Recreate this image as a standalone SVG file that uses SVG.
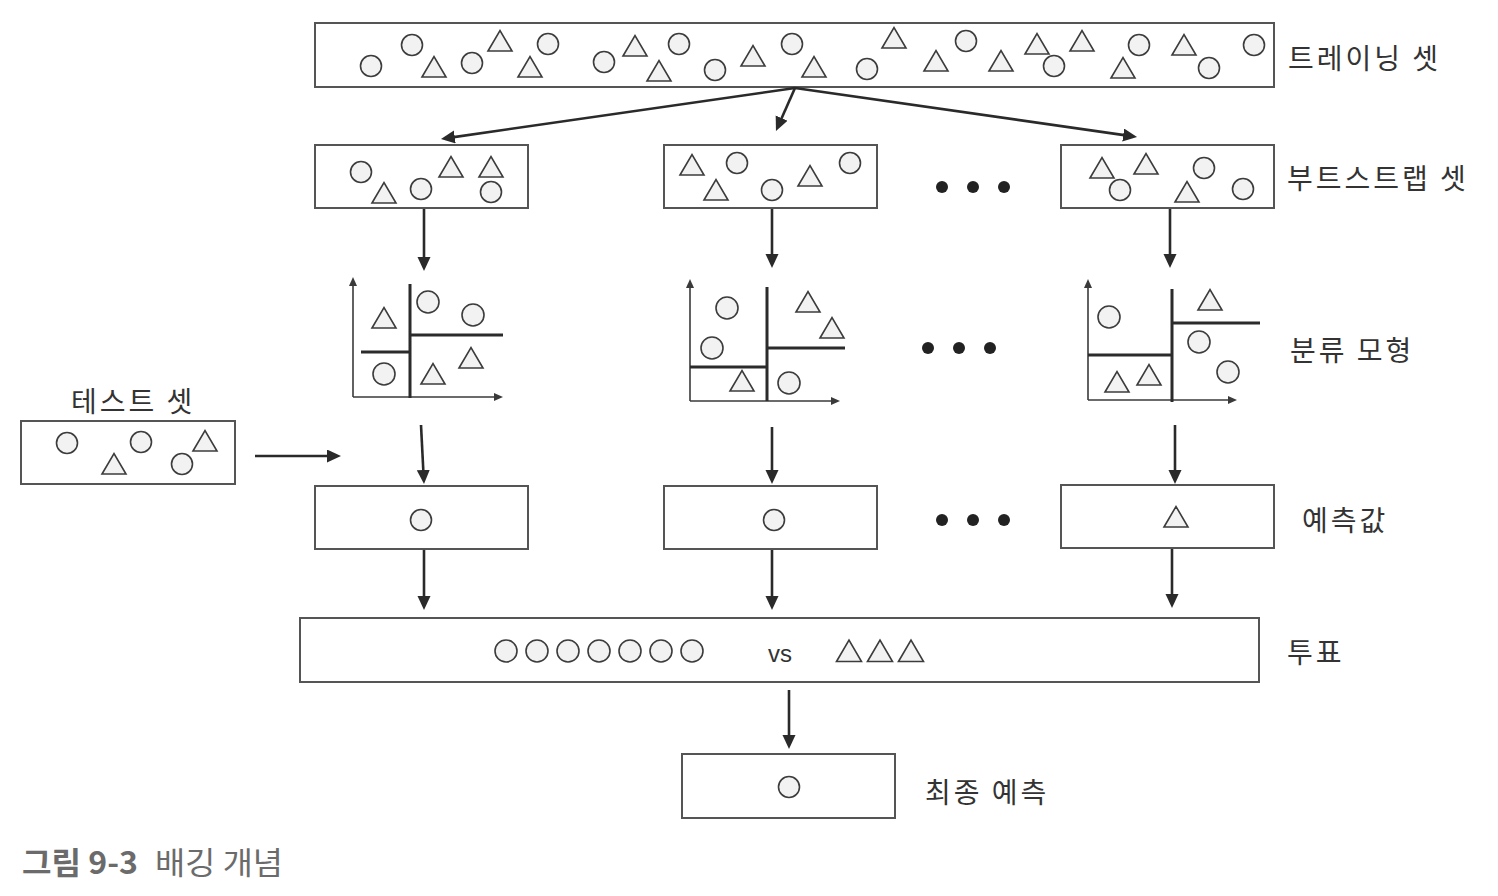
<svg xmlns="http://www.w3.org/2000/svg" xmlns:xlink="http://www.w3.org/1999/xlink" width="1498" height="896" viewBox="0 0 1498 896">
<style>
.box{fill:#fff;stroke:#555;stroke-width:2}
.sh{fill:#f2f2f2;stroke:#3c3c3c;stroke-width:1.6}
.conn{stroke:#2a2a2a;stroke-width:2.6;fill:none}
.axis{stroke:#3a3a3a;stroke-width:1.6;fill:none}
.part{stroke:#2b2b2b;stroke-width:3;fill:none}
.lbl{font-family:"Noto Sans CJK KR","Noto Sans",sans-serif;font-size:28px;letter-spacing:3px;fill:#333;dominant-baseline:central}
.dot{fill:#222}
.cap{font-family:"Noto Sans CJK KR","Noto Sans",sans-serif;font-size:31px;fill:#6b6b6b}
</style>
<defs>
<circle id="c" r="10.5" class="sh"/>
<circle id="cb" r="11" class="sh"/>
<path id="t" d="M-12,10 L0,-10.5 L12,10 Z" class="sh"/>
<path id="tv" d="M-12.5,10.5 L0,-11 L12.5,10.5 Z" class="sh"/>
<marker id="ah" markerUnits="userSpaceOnUse" markerWidth="16" markerHeight="14" refX="8" refY="6.5" orient="auto">
<path d="M0,0 L14,6.5 L0,13 Z" fill="#2a2a2a"/>
</marker>
<marker id="ax" markerUnits="userSpaceOnUse" markerWidth="10" markerHeight="8" refX="3" refY="4" orient="auto">
<path d="M0,0 L9,4 L0,8 Z" fill="#3a3a3a"/>
</marker>
</defs>

<g id="training-set">
<rect class="box" x="315" y="23" width="959" height="64"/>
<use href="#c" x="371" y="66"/><use href="#c" x="412" y="45"/><use href="#c" x="472" y="63"/><use href="#c" x="548" y="44"/>
<use href="#c" x="604" y="62"/><use href="#c" x="679" y="44"/><use href="#c" x="715" y="70"/><use href="#c" x="792" y="44"/>
<use href="#c" x="867" y="69"/><use href="#c" x="966" y="41"/><use href="#c" x="1054" y="66"/><use href="#c" x="1139" y="45"/>
<use href="#c" x="1209" y="68"/><use href="#c" x="1254" y="45"/>
<use href="#t" x="434" y="67"/><use href="#t" x="500" y="41"/><use href="#t" x="530" y="67"/><use href="#t" x="635" y="46"/>
<use href="#t" x="659" y="71"/><use href="#t" x="753" y="56"/><use href="#t" x="814" y="67"/><use href="#t" x="894" y="38"/>
<use href="#t" x="936" y="61"/><use href="#t" x="1001" y="61"/><use href="#t" x="1037" y="44"/><use href="#t" x="1082" y="41"/>
<use href="#t" x="1123" y="68"/><use href="#t" x="1184" y="45"/>
<text class="lbl" x="1288" y="57">트레이닝 셋</text>
</g>

<g id="bootstrap-1">
<rect class="box" x="315" y="145" width="213" height="63"/>
<use href="#c" x="361" y="172"/><use href="#c" x="421" y="189"/><use href="#c" x="491" y="192"/>
<use href="#t" x="384" y="193"/><use href="#t" x="451" y="167"/><use href="#t" x="491" y="167"/>
</g>
<g id="bootstrap-2">
<rect class="box" x="664" y="145" width="213" height="63"/>
<use href="#t" x="692" y="165"/><use href="#t" x="716" y="190"/><use href="#t" x="810" y="176"/>
<use href="#c" x="737" y="163"/><use href="#c" x="772" y="190"/><use href="#c" x="850" y="163"/>
</g>
<g id="bootstrap-3">
<rect class="box" x="1061" y="145" width="213" height="63"/>
<use href="#t" x="1102" y="168"/><use href="#t" x="1146" y="164"/><use href="#t" x="1187" y="192"/>
<use href="#c" x="1204" y="168"/><use href="#c" x="1120" y="190"/><use href="#c" x="1243" y="189"/>
<text class="lbl" x="1287" y="177">부트스트랩 셋</text>
</g>
<g id="bootstrap-dots">
<circle class="dot" cx="942" cy="187" r="6"/><circle class="dot" cx="973" cy="187" r="6"/><circle class="dot" cx="1004" cy="187" r="6"/>
</g>

<g id="classifier-1">
<path class="axis" d="M353,397 L353,283" marker-end="url(#ax)"/>
<path class="axis" d="M353,397 L497,397" marker-end="url(#ax)"/>
<path class="part" d="M410,284 L410,398 M361,352 L410,352 M410,335 L503,335"/>
<use href="#t" x="384" y="318"/><use href="#cb" x="428" y="302"/><use href="#cb" x="473" y="315"/>
<use href="#t" x="471" y="358"/><use href="#cb" x="384" y="374"/><use href="#t" x="433" y="374"/>
</g>
<g id="classifier-2">
<path class="axis" d="M690,401 L690,285" marker-end="url(#ax)"/>
<path class="axis" d="M690,401 L834,401" marker-end="url(#ax)"/>
<path class="part" d="M767,287 L767,401 M690,367 L767,367 M767,348 L845,348"/>
<use href="#cb" x="727" y="308"/><use href="#cb" x="712" y="348"/><use href="#t" x="808" y="302"/>
<use href="#t" x="832" y="328"/><use href="#t" x="742" y="381"/><use href="#cb" x="789" y="383"/>
</g>
<g id="classifier-3">
<path class="axis" d="M1088,400 L1088,285" marker-end="url(#ax)"/>
<path class="axis" d="M1088,400 L1231,400" marker-end="url(#ax)"/>
<path class="part" d="M1172,289 L1172,402 M1088,355 L1172,355 M1172,323 L1260,323"/>
<use href="#cb" x="1109" y="317"/><use href="#t" x="1210" y="300"/><use href="#cb" x="1199" y="342"/>
<use href="#cb" x="1228" y="372"/><use href="#t" x="1117" y="382"/><use href="#t" x="1149" y="375"/>
<text class="lbl" x="1290" y="349">분류 모형</text>
</g>
<g id="classifier-dots">
<circle class="dot" cx="928" cy="348" r="6"/><circle class="dot" cx="959" cy="348" r="6"/><circle class="dot" cx="990" cy="348" r="6"/>
</g>

<g id="test-set">
<text class="lbl" x="71" y="400">테스트 셋</text>
<rect class="box" x="21" y="421" width="214" height="63"/>
<use href="#c" x="67" y="443"/><use href="#c" x="141" y="442"/><use href="#c" x="182" y="464"/>
<use href="#t" x="205" y="441"/><use href="#t" x="114" y="464"/>
</g>

<g id="prediction-1">
<rect class="box" x="315" y="486" width="213" height="63"/>
<use href="#c" x="421" y="520"/>
</g>
<g id="prediction-2">
<rect class="box" x="664" y="486" width="213" height="63"/>
<use href="#c" x="774" y="520"/>
</g>
<g id="prediction-3">
<rect class="box" x="1061" y="485" width="213" height="63"/>
<use href="#t" x="1176" y="517"/>
<text class="lbl" x="1302" y="519">예측값</text>
</g>
<g id="prediction-dots">
<circle class="dot" cx="942" cy="520" r="6"/><circle class="dot" cx="973" cy="520" r="6"/><circle class="dot" cx="1004" cy="520" r="6"/>
</g>

<g id="vote">
<rect class="box" x="300" y="618" width="959" height="64"/>
<use href="#cb" x="506" y="651"/><use href="#cb" x="537" y="651"/><use href="#cb" x="568" y="651"/><use href="#cb" x="599" y="651"/>
<use href="#cb" x="630" y="651"/><use href="#cb" x="661" y="651"/><use href="#cb" x="692" y="651"/>
<text x="780" y="662" text-anchor="middle" style="font-family:'Liberation Sans','Noto Sans',sans-serif;font-size:24px;fill:#333">vs</text>
<use href="#tv" x="849" y="651"/><use href="#tv" x="880" y="651"/><use href="#tv" x="911" y="651"/>
<text class="lbl" x="1287" y="651">투표</text>
</g>

<g id="final">
<rect class="box" x="682" y="754" width="213" height="64"/>
<use href="#c" x="789" y="787"/>
<text class="lbl" x="925" y="791">최종 예측</text>
</g>

<g id="connectors">
<path class="conn" d="M795,88 L446.9,138.1" marker-end="url(#ah)"/>
<path class="conn" d="M795,88 L778.4,125.5" marker-end="url(#ah)"/>
<path class="conn" d="M795,88 L1131.1,136.1" marker-end="url(#ah)"/>
<path class="conn" d="M424,209 L424,265" marker-end="url(#ah)"/>
<path class="conn" d="M772,209 L772,262" marker-end="url(#ah)"/>
<path class="conn" d="M1170,209 L1170,262" marker-end="url(#ah)"/>
<path class="conn" d="M421,425 L423.7,478" marker-end="url(#ah)"/>
<path class="conn" d="M772,427 L772,478" marker-end="url(#ah)"/>
<path class="conn" d="M1175,425 L1175,478" marker-end="url(#ah)"/>
<path class="conn" d="M255,456 L335,456" marker-end="url(#ah)"/>
<path class="conn" d="M424,550 L424,604" marker-end="url(#ah)"/>
<path class="conn" d="M772,550 L772,604" marker-end="url(#ah)"/>
<path class="conn" d="M1172,549 L1172,602" marker-end="url(#ah)"/>
<path class="conn" d="M789,690 L789,743" marker-end="url(#ah)"/>
</g>

<g id="caption">
<text class="cap" x="22" y="874" font-weight="bold" textLength="116" lengthAdjust="spacingAndGlyphs">그림 9-3</text>
<text class="cap" x="155" y="874" textLength="128" lengthAdjust="spacingAndGlyphs">배깅 개념</text>
</g>
</svg>
